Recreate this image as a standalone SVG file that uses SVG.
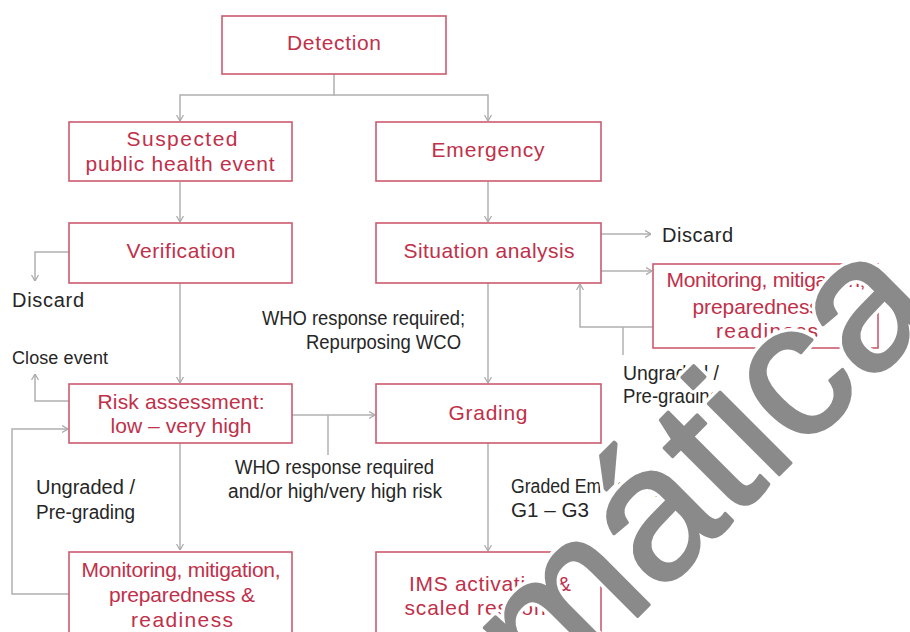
<svg xmlns="http://www.w3.org/2000/svg" width="910" height="632" viewBox="0 0 910 632">
<defs>
<marker id="arr" viewBox="0 0 6 8" refX="6" refY="4" markerWidth="6" markerHeight="8" orient="auto" markerUnits="userSpaceOnUse">
<path d="M0,0.5 L6,4 L0,7.5" fill="none" stroke="#a8a8a8" stroke-width="1.2"/>
</marker>
<style>
.box{fill:#fff;stroke:#cc5a70;stroke-width:1.6}
.bt{font-family:"Liberation Sans",Arial,sans-serif;font-size:21px;fill:#c0304a;text-anchor:middle}
.lb{font-family:"Liberation Sans",Arial,sans-serif;font-size:20px;fill:#262626}
.c{fill:none;stroke:#b0b0b0;stroke-width:1.5}
.ca{fill:none;stroke:#b0b0b0;stroke-width:1.5;marker-end:url(#arr)}
.wm{font-family:"Liberation Sans",Arial,sans-serif;font-size:190px;text-anchor:end}
.wmh{fill:#fff;stroke:#fff;stroke-width:10;stroke-linejoin:round}
.wmf{fill:#8a8a8a;stroke:#8a8a8a;stroke-width:3;stroke-linejoin:round}
</style>
</defs>
<rect width="910" height="632" fill="#fff"/>
<g id="connectors">
<path class="ca" d="M334,74 V95 H180 V121"/>
<path class="ca" d="M334,95 H488 V121"/>
<path class="ca" d="M180,182 V222"/>
<path class="ca" d="M488,182 V222"/>
<path class="ca" d="M69,252 H35 V281"/>
<path class="ca" d="M180,283 V383"/>
<path class="ca" d="M69,401 H35 V374"/>
<path class="ca" d="M488,283 V383"/>
<path class="ca" d="M601,234 H651"/>
<path class="ca" d="M601,271 H652"/>
<path class="ca" d="M653,327 H580 V284"/>
<path class="c" d="M623,327 V355"/>
<path class="ca" d="M292,415 H375"/>
<path class="c" d="M328,415 V455"/>
<path class="ca" d="M180,443 V550"/>
<path class="ca" d="M69,594 H12 V429 H68"/>
<path class="ca" d="M488,443 V551"/>
</g>
<g id="detection"><rect class="box" x="222" y="16" width="224" height="58"/><text class="bt" x="334" y="50" textLength="94">Detection</text></g>
<g id="suspected"><rect class="box" x="69" y="122" width="223" height="59"/><text class="bt" x="182" y="146" textLength="111">Suspected</text><text class="bt" x="180" y="171" textLength="189">public health event</text></g>
<g id="emergency"><rect class="box" x="376" y="122" width="225" height="59"/><text class="bt" x="488" y="157" textLength="113">Emergency</text></g>
<g id="verification"><rect class="box" x="69" y="223" width="223" height="60"/><text class="bt" x="181" y="258" textLength="109">Verification</text></g>
<g id="situation"><rect class="box" x="376" y="223" width="225" height="60"/><text class="bt" x="489" y="258" textLength="171">Situation analysis</text></g>
<g id="risk"><rect class="box" x="69" y="384" width="223" height="59"/><text class="bt" x="181" y="409" textLength="167">Risk assessment:</text><text class="bt" x="181" y="433" textLength="141">low – very high</text></g>
<g id="grading"><rect class="box" x="376" y="384" width="225" height="59"/><text class="bt" x="488" y="420" textLength="79">Grading</text></g>
<g id="monitoring-left"><rect class="box" x="69" y="552" width="223" height="100"/><text class="bt" x="181" y="577" textLength="199">Monitoring, mitigation,</text><text class="bt" x="182" y="602" textLength="146">preparedness &amp;</text><text class="bt" x="182" y="627" textLength="102">readiness</text></g>
<g id="ims"><rect class="box" x="376" y="552" width="225" height="100"/><text class="bt" x="490" y="591" textLength="162">IMS activation &amp;</text><text class="bt" x="487" y="615" textLength="165">scaled response</text></g>
<g id="monitoring-right"><rect class="box" x="653" y="264" width="225" height="84"/><text class="bt" x="766" y="287" textLength="199">Monitoring, mitigation,</text><text class="bt" x="766" y="314" textLength="147">preparedness &amp;</text><text class="bt" x="767" y="338" textLength="102">readiness</text></g>
<g id="labels">
<text class="lb" x="12" y="307" textLength="72">Discard</text>
<text class="lb" x="12" y="364" textLength="96" style="font-size:18px">Close event</text>
<text class="lb" x="262" y="325" textLength="203" lengthAdjust="spacingAndGlyphs">WHO response required;</text>
<text class="lb" x="306" y="349" textLength="155" lengthAdjust="spacingAndGlyphs">Repurposing WCO</text>
<text class="lb" x="235" y="474" textLength="199" lengthAdjust="spacingAndGlyphs">WHO response required</text>
<text class="lb" x="228" y="498" textLength="214" lengthAdjust="spacingAndGlyphs">and/or high/very high risk</text>
<text class="lb" x="36" y="494" textLength="99" lengthAdjust="spacingAndGlyphs">Ungraded /</text>
<text class="lb" x="36" y="519" textLength="99" lengthAdjust="spacingAndGlyphs">Pre-grading</text>
<text class="lb" x="511" y="493" textLength="158" lengthAdjust="spacingAndGlyphs">Graded Emergency:</text>
<text class="lb" x="511" y="517" textLength="78" lengthAdjust="spacingAndGlyphs">G1 – G3</text>
<text class="lb" x="662" y="242" textLength="71">Discard</text>
<text class="lb" x="623" y="380" textLength="96" lengthAdjust="spacingAndGlyphs">Ungraded /</text>
<text class="lb" x="623" y="403" textLength="97" lengthAdjust="spacingAndGlyphs">Pre-grading</text>
</g>
<g id="watermark" transform="translate(942,312) rotate(-45)">
<text class="wm wmh">Automática</text>
<text class="wm wmf">Automática</text>
</g>
</svg>
